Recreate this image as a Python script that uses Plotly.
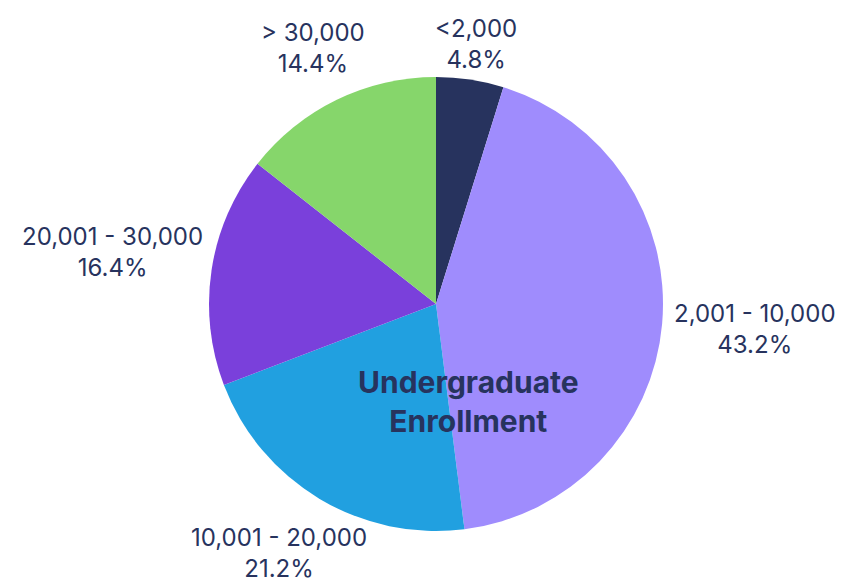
import math
import plotly.graph_objects as go

labels = ["<2,000", "2,001 - 10,000", "10,001 - 20,000", "20,001 - 30,000", "> 30,000"]
shares = [4.8, 43.2, 21.2, 16.4, 14.4]
colors = ["#27335E", "#9F8CFD", "#21A0E0", "#7A40DB", "#86D66B"]
title_text = "Undergraduate<br>Enrollment"

navy = "#27335E"
font_family = "Inter, Roboto, sans-serif"
label_size = 24

W, H = 846, 583
ml, mr, mt, mb = 201, 191, 69, 60
pw, ph = W - ml - mr, H - mt - mb


def to_paper(px, py):
    return (px - ml) / pw, 1 - (py - mt) / ph


fig = go.Figure()
fig.add_trace(go.Pie(
    labels=labels,
    values=shares,
    sort=False,
    direction="clockwise",
    rotation=0,
    marker=dict(colors=colors, line=dict(width=0)),
    textinfo="none",
    showlegend=False,
    hoverinfo="label+percent",
))

# outside labels: placed just clear of the rim along each slice's mid angle
cx, cy = ml + pw / 2, mt + ph / 2
radius = min(pw, ph) / 2
total = sum(shares)
char_w = 0.52 * label_size
box_h = 2 * 1.35 * label_size
cum = 0
for lab, v in zip(labels, shares):
    mid = (cum + v / 2) / total * 2 * math.pi
    cum += v
    dx, dy = math.sin(mid), -math.cos(mid)
    pct = f"{v / total * 100:.1f}%"
    w = max(len(lab), len(pct)) * char_w
    t = radius + 3 + abs(dx) * w / 2 + abs(dy) * box_h / 2
    px, py = cx + t * dx, cy + t * dy - 3
    # keep the two-line block inside the page
    py = min(max(py, box_h / 2 + 4), H - box_h / 2 - 6)
    x, y = to_paper(px, py)
    fig.add_annotation(
        text=lab.replace("<", "&lt;").replace(">", "&gt;") + "<br>" + pct,
        x=x, y=y, xref="paper", yref="paper",
        xanchor="center", yanchor="middle",
        showarrow=False,
        font=dict(family=font_family, size=label_size, color=navy),
    )

# title sits inside the pie, a bit right of and below the centre
tx, ty = to_paper(460, 393)
fig.add_annotation(
    text="<b>" + title_text + "</b>",
    x=tx, y=ty, xref="paper", yref="paper",
    xanchor="center", yanchor="middle",
    showarrow=False,
    font=dict(family=font_family, size=30, color=navy),
)

fig.update_layout(
    width=W, height=H,
    margin=dict(l=ml, r=mr, t=mt, b=mb, autoexpand=False),
    paper_bgcolor="white",
    plot_bgcolor="white",
)

fig.write_html("out.html")
